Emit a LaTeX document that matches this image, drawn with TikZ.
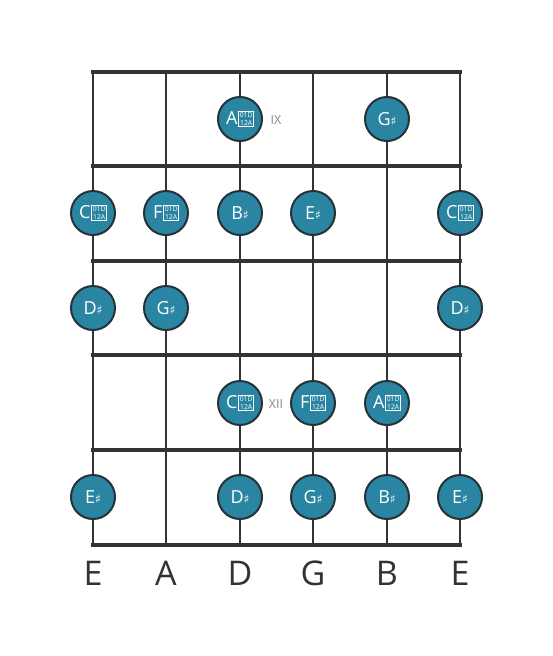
\documentclass[tikz,border=0pt]{standalone}
\usepackage{fontspec}
\setmainfont{Open Sans}
\newfontfamily\symfont{DejaVu Sans}
\definecolor{linec}{HTML}{333333}
\definecolor{notefill}{HTML}{2A85A2}
\definecolor{noteedge}{HTML}{263238}
\definecolor{labelc}{HTML}{333333}
\definecolor{posc}{HTML}{888888}
\newcommand{\shp}{{\symfont\fontsize{12}{12}\selectfont ♯}}
\newcommand{\tofu}{\kern1pt{\setlength{\fboxsep}{0.9pt}\setlength{\fboxrule}{0.5pt}\raisebox{-1pt}{\fbox{\fontsize{6.8}{6.2}\selectfont\shortstack{01D\\12A}}}}}
\tikzset{
  fret/.style={line width=4.5pt,color=linec},
  stringline/.style={line width=2.4pt,color=linec},
  note/.style={circle,draw=noteedge,line width=2pt,fill=notefill,minimum size=44pt,inner sep=0pt,text=white,font=\fontsize{18}{18}\selectfont},
  openlbl/.style={font=\fontsize{34}{34}\selectfont,text=labelc},
  poslbl/.style={font=\fontsize{12.5}{12.5}\selectfont,text=posc}
}
\begin{document}
\begin{tikzpicture}[x=1pt,y=-1pt]
\useasboundingbox (0,0) rectangle (553,656);
% string coordinates
\foreach \n/\x in {1/93,2/166,3/240,4/313,5/387,6/460}{
  \coordinate (st\n) at (\x,72);
  \coordinate (sb\n) at (\x,545);
}
\foreach \n in {1,...,6}{ \draw[stringline] (st\n) -- (sb\n); }
\foreach \f/\y in {0/72,1/166,2/261,3/355,4/450,5/545}{
  \coordinate (fl\f) at (93,\y);
  \coordinate (fr\f) at (460,\y);
}
\foreach \f in {0,...,5}{ \draw[fret,line cap=rect] (fl\f) -- (fr\f); }
% notes row 1
\node[note] (n11) at (240,119) {A\tofu};
\node[note] (n12) at (387,119) {G\shp};
\node[poslbl] (p1) at (276,120) {IX};
% row 2
\node[note] (n21) at (93,213) {C\tofu};
\node[note] (n22) at (166,213) {F\tofu};
\node[note] (n23) at (240,213) {B\shp};
\node[note] (n24) at (313,213) {E\shp};
\node[note] (n25) at (460,213) {C\tofu};
% row 3
\node[note] (n31) at (93,308) {D\shp};
\node[note] (n32) at (166,308) {G\shp};
\node[note] (n33) at (460,308) {D\shp};
% row 4
\node[note] (n41) at (240,403) {C\tofu};
\node[note] (n42) at (313,403) {F\tofu};
\node[note] (n43) at (387,403) {A\tofu};
\node[poslbl] (p2) at (276,404) {XII};
% row 5
\node[note] (n51) at (93,497) {E\shp};
\node[note] (n52) at (240,497) {D\shp};
\node[note] (n53) at (313,497) {G\shp};
\node[note] (n54) at (387,497) {B\shp};
\node[note] (n55) at (460,497) {E\shp};
% open string labels
\foreach \n/\x/\t in {1/93/E,2/166/A,3/240/D,4/313/G,5/387/B,6/460/E}{
  \node[openlbl] (o\n) at (\x,573) {\t};
}
\end{tikzpicture}
\end{document}
